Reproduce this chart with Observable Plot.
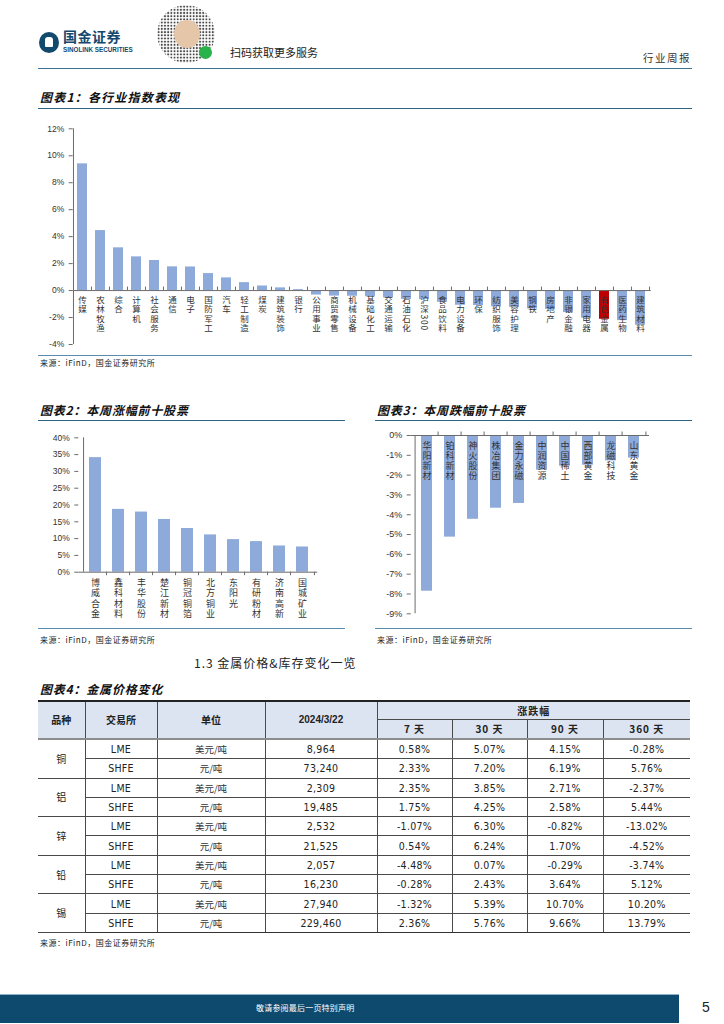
<!DOCTYPE html>
<html><head><meta charset="utf-8">
<script src="https://cdn.jsdelivr.net/npm/d3@7"></script>
<script src="https://cdn.jsdelivr.net/npm/@observablehq/plot@0.6"></script>
<style>
body{margin:0;width:724px;height:1024px;position:relative;background:#fff;font-family:"Noto Sans CJK SC","Noto Sans",sans-serif;overflow:hidden}
.abs{position:absolute;white-space:nowrap}
.title{font-weight:bold;font-style:italic;font-size:12px;line-height:14px;color:#111}
.uline{position:absolute;height:0;border-top:1.5px solid #2f6384}
.bline{position:absolute;height:0;border-top:1.2px solid #5a8cb0}
.src{font-size:8px;line-height:10px;color:#222;letter-spacing:0.5px}
#tbl{position:absolute;left:38px;top:700px;width:652px;border-collapse:collapse;table-layout:fixed;font-size:10px;color:#222}
#tbl th,#tbl td{border:1px solid #4a4a4a;text-align:center;padding:0;overflow:hidden;white-space:nowrap;line-height:12px}
#tbl .l{border-left:none}
#tbl .r{border-right:none}
#tbl thead th{background:#dce3f1;font-weight:bold;font-size:10px}
#tbl thead tr.h1 th{border-top:2px solid #222;height:17px}
#tbl thead tr.h2 th{height:18px;letter-spacing:1px}
#tbl thead tr.h2 th,#tbl thead th.rs{border-bottom:2px solid #8c8c8c}
#tbl td{height:18.3px}
#tbl .n{font-family:"Liberation Sans Narrow","DejaVu Sans Condensed","Liberation Sans",sans-serif;font-size:10.5px;letter-spacing:0.3px}
#tbl .u{font-size:9.5px;color:#333}
#tbl tr.last td{border-bottom:1.5px solid #333}
#tbl tr.sep td{border-top:1.5px solid #777}
svg text.vl{writing-mode:vertical-rl}
</style></head>
<body>
<!-- header -->
<div class="abs" style="left:39px;top:32px;width:20px;height:21px;border-radius:50%;background:#124a6e"></div>
<div class="abs" style="left:45px;top:37px;width:8px;height:10px;border-radius:3px 3px 1px 1px;background:#fff"></div>
<div class="abs" style="left:63px;top:29px;font-size:14px;line-height:15px;font-weight:bold;color:#15476d;letter-spacing:0.5px">国金证券</div>
<div class="abs" style="left:63px;top:46px;font-family:'Liberation Sans',sans-serif;font-size:6.3px;line-height:7px;font-weight:bold;color:#15476d">SINOLINK SECURITIES</div>
<div class="abs" style="left:157px;top:5px;width:58px;height:58px;border-radius:50%;background-image:radial-gradient(circle,#333 1px,transparent 1.3px);background-size:3.2px 3.2px;opacity:0.9"></div>
<div class="abs" style="left:174px;top:20px;width:26px;height:28px;border-radius:50%;background:#e6c6a8"></div>
<div class="abs" style="left:199px;top:46px;width:13px;height:13px;border-radius:50%;background:#27b24a"></div>
<div class="abs" style="left:230px;top:45px;font-size:11px;line-height:14px;color:#222">扫码获取更多服务</div>
<div class="abs" style="left:643px;top:51px;font-size:10.5px;line-height:14px;color:#333;letter-spacing:1.5px">行业周报</div>
<div class="uline" style="left:38px;top:68px;width:654px;border-top-color:#3b6f92"></div>

<!-- chart 1 -->
<div class="abs title" style="left:40px;top:90px;letter-spacing:1.2px">图表1：各行业指数表现</div>
<div class="uline" style="left:38px;top:108px;width:654px"></div>
<div id="c1" class="abs" style="left:38px;top:112px"></div>
<div class="bline" style="left:38px;top:355px;width:654px"></div>
<div class="abs src" style="left:40px;top:358px">来源：iFinD，国金证券研究所</div>

<!-- chart 2 & 3 -->
<div class="abs title" style="left:40px;top:403px;letter-spacing:0.8px">图表2：本周涨幅前十股票</div>
<div class="uline" style="left:38px;top:420px;width:307px"></div>
<div id="c2" class="abs" style="left:38px;top:423px"></div>
<div class="bline" style="left:38px;top:628px;width:307px"></div>
<div class="abs src" style="left:40px;top:635px">来源：iFinD，国金证券研究所</div>

<div class="abs title" style="left:377px;top:403px;letter-spacing:0.8px">图表3：本周跌幅前十股票</div>
<div class="uline" style="left:375px;top:420px;width:317px"></div>
<div id="c3" class="abs" style="left:375px;top:423px"></div>
<div class="bline" style="left:375px;top:628px;width:317px"></div>
<div class="abs src" style="left:377px;top:635px">来源：iFinD，国金证券研究所</div>

<!-- table -->
<div class="abs" style="left:194px;top:655px;font-size:12px;line-height:16px;color:#222;letter-spacing:1px">1.3 金属价格&amp;库存变化一览</div>
<div class="abs title" style="left:40px;top:682px;letter-spacing:0.8px">图表4：金属价格变化</div>
<table id="tbl">
<colgroup><col style="width:47px"><col style="width:72px"><col style="width:108px"><col style="width:112px"><col style="width:75px"><col style="width:75px"><col style="width:76px"><col style="width:87px"></colgroup>
<thead>
<tr class="h1"><th class="l rs" rowspan="2">品种</th><th class="rs" rowspan="2">交易所</th><th class="rs" rowspan="2">单位</th><th class="rs" rowspan="2" style="font-family:'Liberation Sans',sans-serif">2024/3/22</th><th class="r" colspan="4" style="letter-spacing:1px">涨跌幅</th></tr>
<tr class="h2" id="hdr2"></tr>
</thead>
<tbody id="tb"></tbody>
</table>
<div class="abs src" style="left:40px;top:938px">来源：iFinD，国金证券研究所</div>

<!-- footer -->
<div class="abs" style="left:0;top:994px;width:679px;height:28px;background:#0d4a6d;border-top:1px solid #8fb0c6"></div>
<div class="abs" style="left:256px;top:1003px;font-size:8px;line-height:10px;color:#fff;letter-spacing:0.2px">敬请参阅最后一页特别声明</div>
<div class="abs" style="left:702px;top:998px;font-family:'Liberation Sans',sans-serif;font-size:14px;line-height:18px;color:#222">5</div>

<script>
// ---------- data ----------
const industries = ["传媒","农林牧渔","综合","计算机","社会服务","通信","电子","国防军工","汽车","轻工制造","煤炭","建筑装饰","银行","公用事业","商贸零售","机械设备","基础化工","交通运输","石油石化","沪深300","食品饮料","电力设备","环保","纺织服饰","美容护理","钢铁","房地产","非银金融","家用电器","有色金属","医药生物","建筑材料"];
const industryChanges = [9.40,4.45,3.17,2.50,2.23,1.76,1.75,1.26,0.94,0.59,0.34,0.20,0.07,-0.33,-0.41,-0.42,-0.46,-0.54,-0.66,-0.67,-0.87,-1.09,-1.11,-1.21,-1.24,-1.36,-1.39,-1.63,-2.05,-2.13,-2.23,-2.57];
const highlightIndustry = "有色金属";
const industryTicks = [-4,-2,0,2,4,6,8,10,12];

const gainers = ["博威合金","鑫科材料","丰华股份","楚江新材","铜冠铜箔","北方铜业","东阳光","有研粉材","济南高新","国城矿业"];
const gainerChanges = [34.1,18.7,17.9,15.7,13.0,11.1,9.7,9.1,7.8,7.5];
const gainerTicks = [0,5,10,15,20,25,30,35,40];

const losers = ["华阳新材","铂科新材","神火股份","株冶集团","金力永磁","中润资源","中国稀土","西部黄金","龙磁科技","山东黄金"];
const loserChanges = [-7.86,-5.13,-4.23,-3.67,-3.43,-1.75,-1.55,-1.50,-1.28,-1.14];
const loserTicks = [0,-1,-2,-3,-4,-5,-6,-7,-8,-9];

const metals = ["铜","铝","锌","铅","锡"];
const exchanges = ["LME","SHFE"];
const units = ["美元/吨","元/吨"];
const periods = ["7 天","30 天","90 天","360 天"];
const prices = ["8,964","73,240","2,309","19,485","2,532","21,525","2,057","16,230","27,940","229,460"];
const chg7 = ["0.58%","2.33%","2.35%","1.75%","-1.07%","0.54%","-4.48%","-0.28%","-1.32%","2.36%"];
const chg30 = ["5.07%","7.20%","3.85%","4.25%","6.30%","6.24%","0.07%","2.43%","5.39%","5.76%"];
const chg90 = ["4.15%","6.19%","2.71%","2.58%","-0.82%","1.70%","-0.29%","3.64%","10.70%","9.66%"];
const chg360 = ["-0.28%","5.76%","-2.37%","5.44%","-13.02%","-4.52%","-3.74%","5.12%","10.20%","13.79%"];

const BAR = "#8eaadb", RED = "#c00000", AX = "#6b6b6b";

function barChart(o) {
  const n = o.cats.length;
  const step = (o.width - o.ml - o.mr) / n;
  const pxPerUnit = (o.height - o.mt - o.mb) / (o.domain[1] - o.domain[0]);
  const tk = 3.5 / pxPerUnit * o.tickDir;
  const data = o.cats.map((c, i) => ({c, v: o.vals[i], fill: o.color(c)}));
  const svg = Plot.plot({
    width: o.width, height: o.height,
    marginLeft: o.ml, marginRight: o.mr, marginTop: o.mt, marginBottom: o.mb,
    x: {domain: o.cats, paddingInner: o.pad, paddingOuter: o.pad / 2, axis: null},
    y: {domain: o.domain, axis: null},
    color: {type: "identity"},
    style: {fontFamily: "'Liberation Sans',Arial,sans-serif", color: "#333", background: "transparent", overflow: "visible"},
    marks: [
      Plot.barY(data, {x: "c", y: "v", fill: "fill"}),
      Plot.ruleX([o.cats[0]], {dx: -step / 2, stroke: AX}),
      Plot.axisY({ticks: o.ticks, tickFormat: d => d + "%", label: null, tickSize: 4, tickPadding: 5, fontSize: o.tickFont, stroke: AX, fill: "#333"}),
      Plot.ruleY([0], {stroke: AX}),
      Plot.ruleX(o.cats.slice(1), {x: d => d, y1: 0, y2: tk, dx: -step / 2, stroke: AX}),
      Plot.ruleX([o.cats[n - 1]], {x: d => d, y1: 0, y2: tk, dx: step / 2, stroke: AX}),
      Plot.text(data, {x: "c", y: 0, text: "c", textAnchor: "start", lineAnchor: "bottom", dy: o.labelDy,
        fontSize: o.labelFont, fill: "#333", fontFamily: "'Noto Sans CJK SC',sans-serif"})
    ]
  });
  const names = new Set(o.cats);
  svg.querySelectorAll("text").forEach(t => {
    if (!names.has(t.textContent)) return;
    t.setAttribute("writing-mode", "tb");
    t.setAttribute("class", "vl");
    t.style.writingMode = "vertical-rl";
    t.style.letterSpacing = o.spacing + "px";
  });
  return svg;
}

document.getElementById("c1").append(barChart({
  cats: industries, vals: industryChanges, color: c => c === highlightIndustry ? RED : BAR,
  width: 654, height: 240, ml: 34.7, mr: 41.3, mt: 16.3, mb: 8,
  domain: [-4, 12], ticks: industryTicks, pad: 0.42, tickDir: 1,
  tickFont: 8.5, labelFont: 8.5, spacing: 0.9, labelDy: 5
}));
document.getElementById("c2").append(barChart({
  cats: gainers, vals: gainerChanges, color: () => BAR,
  width: 307, height: 203, ml: 40.3, mr: 27.7, mt: 14.3, mb: 54.3,
  domain: [0, 40], ticks: gainerTicks, pad: 0.5, tickDir: -1,
  tickFont: 8.5, labelFont: 9, spacing: 1.6, labelDy: 5.5
}));
document.getElementById("c3").append(barChart({
  cats: losers, vals: loserChanges, color: () => BAR,
  width: 317, height: 203, ml: 35.7, mr: 43, mt: 12, mb: 12.7,
  domain: [-9, 0], ticks: loserTicks, pad: 0.52, tickDir: 1,
  tickFont: 9, labelFont: 9, spacing: 1, labelDy: 5.5
}));

// ---------- table ----------
const hdr2 = document.getElementById("hdr2");
periods.forEach((p, i) => {
  const th = document.createElement("th");
  th.textContent = p;
  if (i === periods.length - 1) th.className = "r";
  hdr2.append(th);
});
const tb = document.getElementById("tb");
metals.forEach((m, mi) => {
  exchanges.forEach((ex, ei) => {
    const r = mi * 2 + ei;
    const tr = document.createElement("tr");
    if (r === prices.length - 1) tr.className = "last";
    if (mi === metals.length - 1 && ei === 0) tr.className = "sep";
    let html = "";
    if (ei === 0) html += `<td class="l" rowspan="2">${m}</td>`;
    html += `<td class="n">${ex}</td><td class="u">${units[ei]}</td><td class="n">${prices[r]}</td>`;
    html += `<td class="n">${chg7[r]}</td><td class="n">${chg30[r]}</td><td class="n">${chg90[r]}</td><td class="n r">${chg360[r]}</td>`;
    tr.innerHTML = html;
    tb.append(tr);
  });
});
</script>
</body></html>
